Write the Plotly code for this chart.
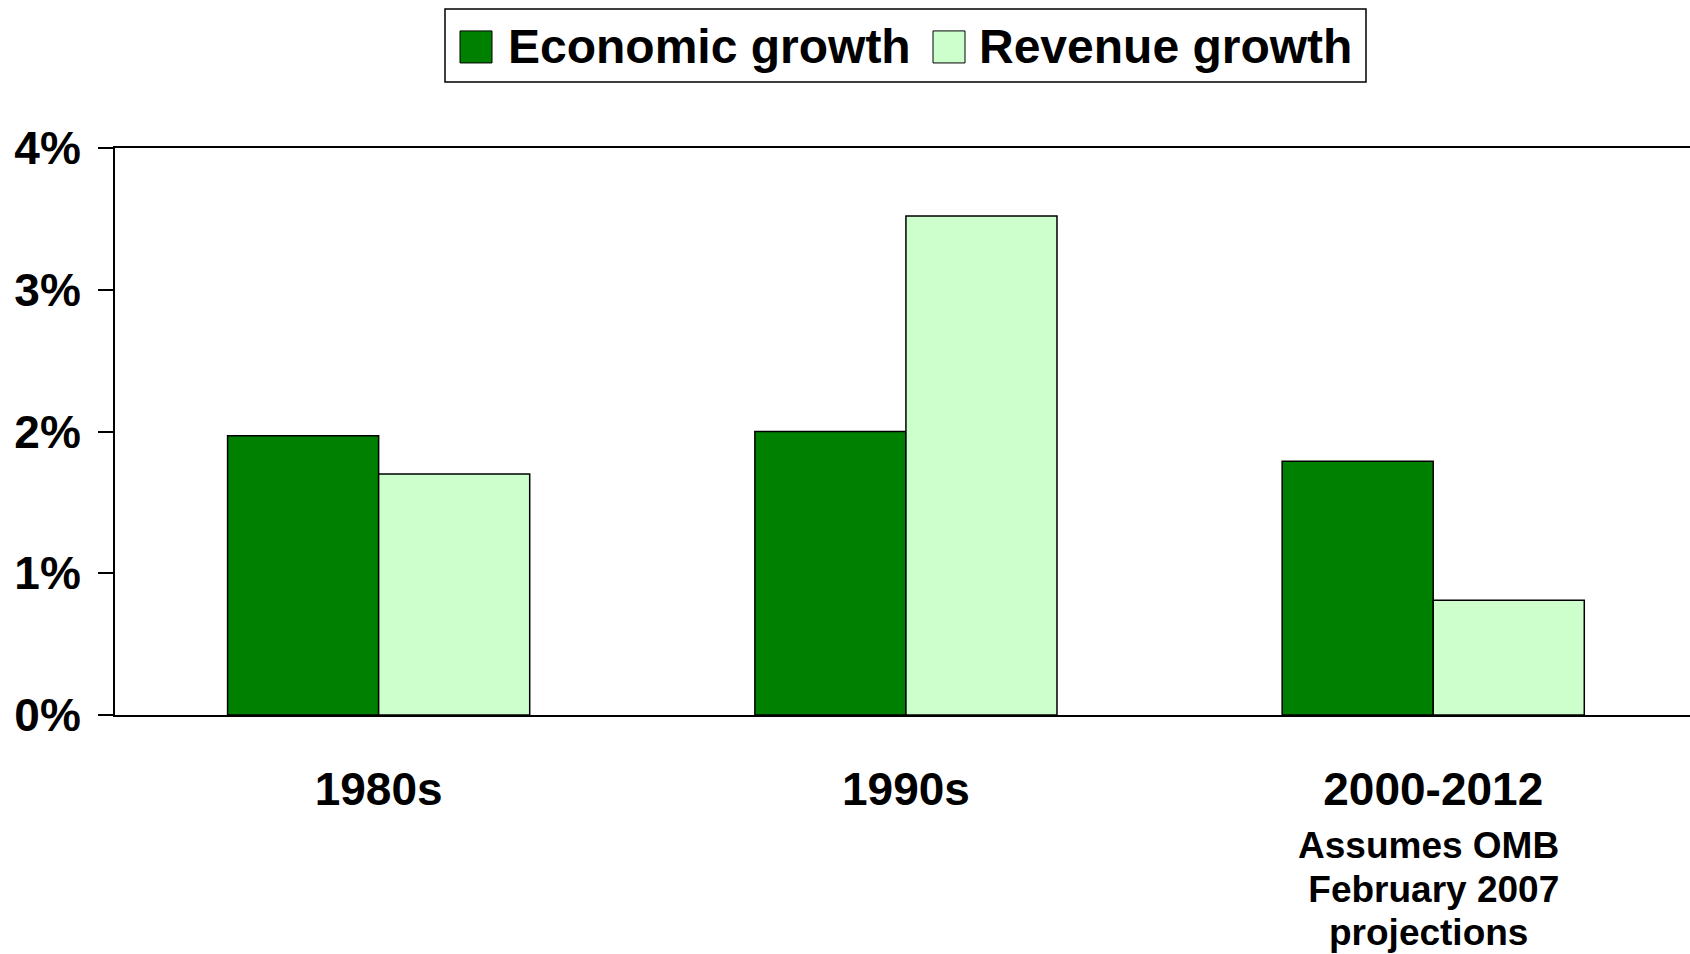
import plotly.graph_objects as go

# ---- data ----
categories = ["1980s", "1990s", "2000-2012"]
economic_growth = [1.97, 2.00, 1.79]
revenue_growth = [1.70, 3.52, 0.81]
series_names = ["Economic growth", "Revenue growth"]
series_colors = ["#008000", "#CCFFCC"]
y_tick_values = [0, 1, 2, 3, 4]
y_tick_labels = ["0%", "1%", "2%", "3%", "4%"]
footnote_lines = ["Assumes OMB", " February 2007", "projections"]

# ---- layout geometry (page pixels; body margin removed via post_script) ----
W, H = 1690, 954
PLOT_LEFT, PLOT_TOP, PLOT_BOTTOM = 115, 148, 714.6
L = PLOT_LEFT
T = PLOT_TOP
B = H - PLOT_BOTTOM
R = 0
plot_w = W - L - R
plot_h = H - T - B
FONT = "Liberation Sans, Arial, Helvetica, sans-serif"


def px2x(px):
    return (px - L) / plot_w


def py2y(py):
    return (PLOT_BOTTOM - py) / plot_h


fig = go.Figure()
for name, vals, col in zip(series_names, [economic_growth, revenue_growth], series_colors):
    fig.add_trace(go.Bar(
        name=name, x=categories, y=vals,
        marker=dict(color=col, line=dict(color="black", width=1.5)),
        showlegend=False, hoverinfo="skip",
    ))

# manual legend (box, swatches, labels)
shapes = [dict(type="rect", xref="paper", yref="paper",
               x0=px2x(445), x1=px2x(1366), y0=py2y(82), y1=py2y(9),
               line=dict(color="black", width=1.5), fillcolor="white")]
annotations = []
swatch_x = [460, 933]
text_x = [506, 977]
for sx, tx, name, col in zip(swatch_x, text_x, series_names, series_colors):
    shapes.append(dict(type="rect", xref="paper", yref="paper",
                       x0=px2x(sx), x1=px2x(sx + 32), y0=py2y(63), y1=py2y(31),
                       line=dict(color="black", width=1), fillcolor=col))
    annotations.append(dict(text=name, xref="paper", yref="paper",
                            x=px2x(tx), y=py2y(47), xanchor="left", yanchor="middle",
                            showarrow=False,
                            font=dict(family=FONT, size=48, color="black", weight="bold")))

# footnote under the last category
foot_y = [845, 889, 932]
for line, fy in zip(footnote_lines, foot_y):
    annotations.append(dict(text=line, xref="x", yref="paper",
                            x=categories[2], y=py2y(fy), xshift=-5,
                            xanchor="center", yanchor="middle", showarrow=False,
                            font=dict(family=FONT, size=37, color="black", weight="bold")))

fig.update_layout(
    width=W, height=H,
    margin=dict(l=L, r=R, t=T, b=B, pad=0),
    paper_bgcolor="white", plot_bgcolor="white",
    barmode="group", bargap=0.427, bargroupgap=0,
    shapes=shapes, annotations=annotations,
    showlegend=False,
)
fig.update_xaxes(
    range=[-0.5, 2.487], showgrid=False, zeroline=False,
    showline=True, linecolor="black", linewidth=2, mirror=True,
    ticks="", ticklabelstandoff=33,
    tickfont=dict(family=FONT, size=46, color="black", weight="bold"),
)
fig.update_yaxes(
    range=[0, 4], tickvals=y_tick_values, ticktext=y_tick_labels,
    showgrid=False, zeroline=False,
    showline=True, linecolor="black", linewidth=2,
    ticks="outside", ticklen=15, tickwidth=2, tickcolor="black",
    ticklabelstandoff=8,
    tickfont=dict(family=FONT, size=46, color="black", weight="bold"),
)

fig.write_html(
    "out.html",
    config={"displayModeBar": False},
    post_script="document.body.style.margin='0';document.body.style.overflow='hidden';",
)
